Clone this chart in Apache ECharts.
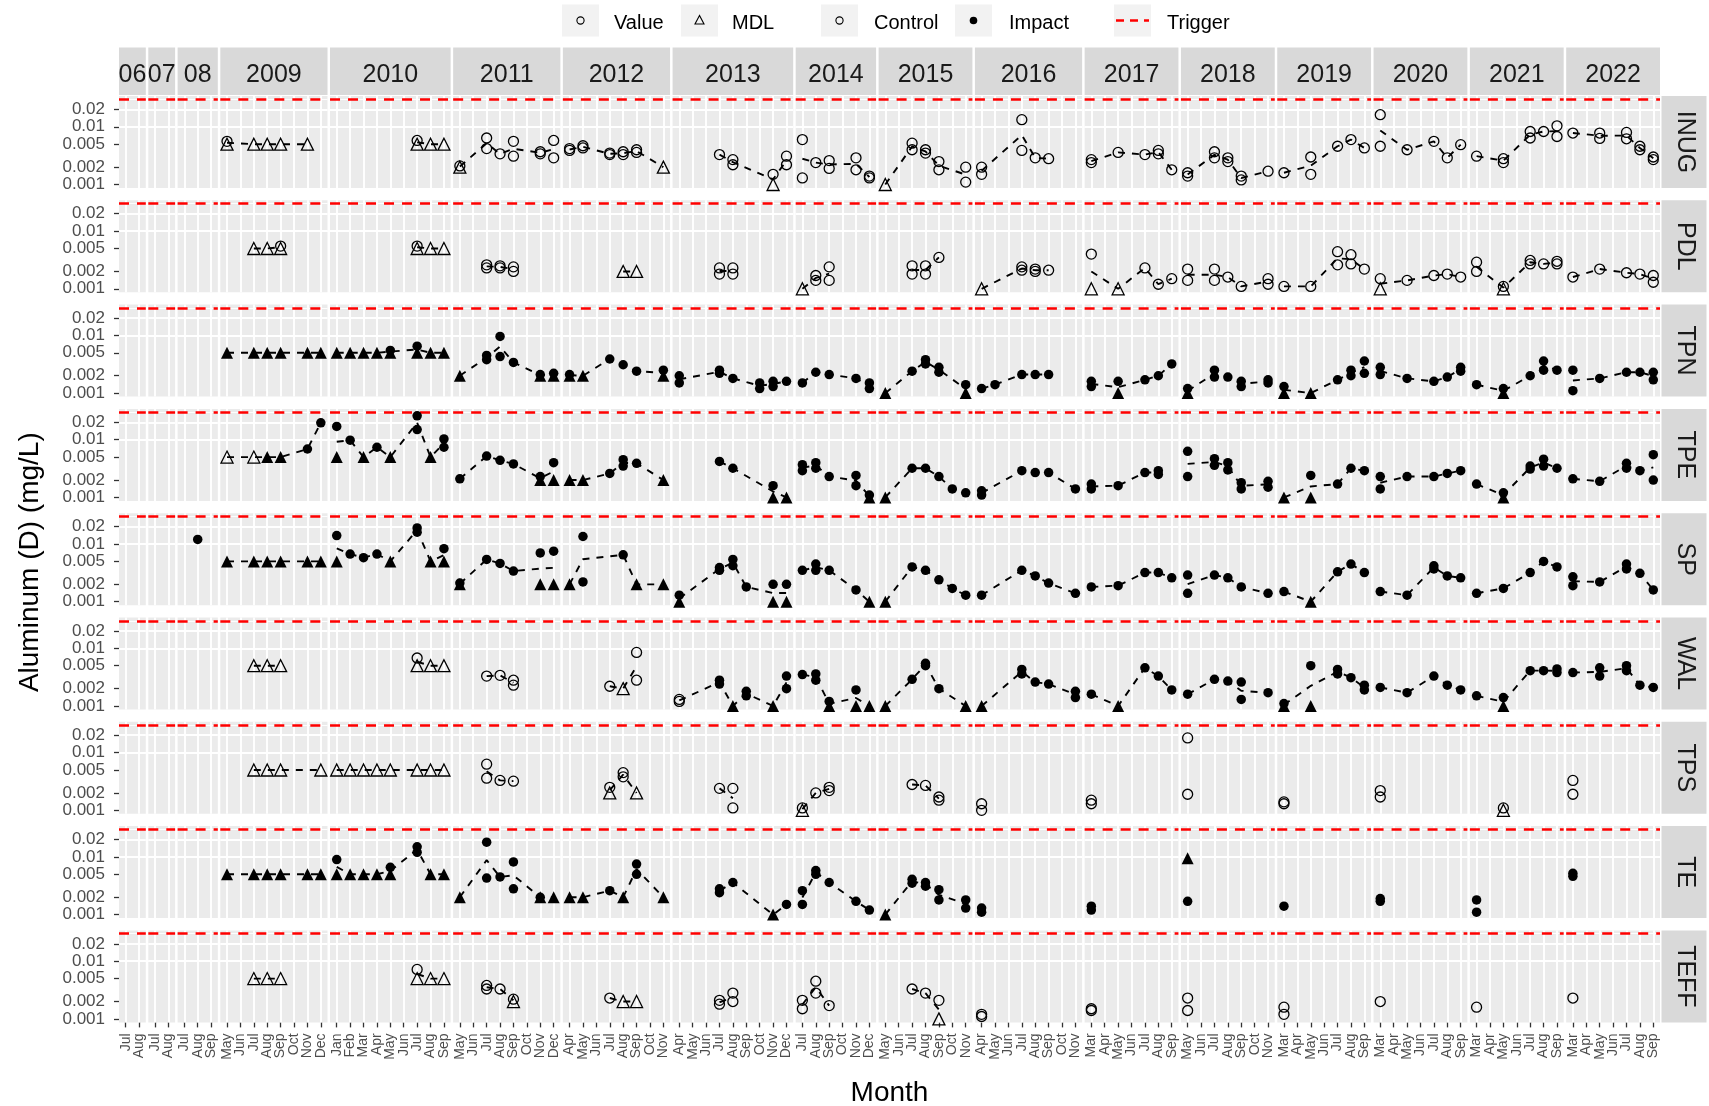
<!DOCTYPE html>
<html><head><meta charset="utf-8">
<script src="https://cdn.jsdelivr.net/npm/echarts@6/dist/echarts.min.js"></script>
<style>html,body{margin:0;padding:0;background:#fff}#c{width:1709px;height:1106px}</style>
</head><body><div id="c"></div>
<script>
const YEARS = ['06','07','08','2009','2010','2011','2012','2013','2014','2015','2016','2017','2018','2019','2020','2021','2022'];
const MONTHS = [
  ['Jul','Aug'],['Jul','Aug'],['Jul','Aug','Sep'],
  ['May','Jun','Jul','Aug','Sep','Oct','Nov','Dec'],
  ['Jan','Feb','Mar','Apr','May','Jun','Jul','Aug','Sep'],
  ['May','Jun','Jul','Aug','Sep','Oct','Nov','Dec'],
  ['Apr','May','Jun','Jul','Aug','Sep','Oct','Nov'],
  ['Apr','May','Jun','Jul','Aug','Sep','Oct','Nov','Dec'],
  ['Jul','Aug','Sep','Oct','Nov','Dec'],
  ['May','Jun','Jul','Aug','Sep','Oct','Nov'],
  ['Apr','May','Jun','Jul','Aug','Sep','Oct','Nov'],
  ['Mar','Apr','May','Jun','Jul','Aug','Sep'],
  ['May','Jun','Jul','Aug','Sep','Oct','Nov'],
  ['Mar','Apr','May','Jun','Jul','Aug','Sep'],
  ['Mar','Apr','May','Jun','Jul','Aug','Sep'],
  ['Mar','Apr','May','Jun','Jul','Aug','Sep'],
  ['Mar','Apr','May','Jun','Jul','Aug','Sep']
];
const STATIONS = ['INUG','PDL','TPN','TPE','SP','WAL','TPS','TE','TEFF'];
const Y_TICKS = [0.001, 0.002, 0.005, 0.01, 0.02];
const TRIGGER = 0.026;
// rows: [year, month, kind, ...values]; kind: cv=Control Value, cm=Control MDL, iv=Impact Value, im=Impact MDL
const INUG = [
  ['2009','May','cm',0.005],['2009','May','cv',0.0056],['2009','Jul','cm',0.005],['2009','Aug','cm',0.005],['2009','Sep','cm',0.005],['2009','Nov','cm',0.005],
  ['2010','Jul','cm',0.005],['2010','Jul','cv',0.0058],['2010','Aug','cm',0.005],['2010','Sep','cm',0.005],
  ['2011','May','cm',0.002],['2011','May','cv',0.0021],['2011','Jul','cv',0.0064,0.0042],['2011','Aug','cv',0.0034],['2011','Sep','cv',0.0056,0.0031],['2011','Nov','cv',0.0037,0.0034],['2011','Dec','cv',0.0058,0.0029],
  ['2012','Apr','cv',0.0042,0.0039],['2012','May','cv',0.0047,0.0043],['2012','Jul','cv',0.0035,0.0033],['2012','Aug','cv',0.0037,0.0033],['2012','Sep','cv',0.004,0.0036],['2012','Nov','cm',0.002],
  ['2013','Jul','cv',0.0033],['2013','Aug','cv',0.0027,0.0022],['2013','Nov','cv',0.0015],['2013','Nov','cm',0.001],['2013','Dec','cv',0.0031,0.0022],
  ['2014','Jul','cv',0.006,0.0013],['2014','Aug','cv',0.0024],['2014','Sep','cv',0.0026,0.0019],['2014','Nov','cv',0.0029,0.0018],['2014','Dec','cv',0.0014,0.0013],
  ['2015','May','cm',0.001],['2015','Jul','cv',0.0052,0.004],['2015','Aug','cv',0.004,0.0035],['2015','Sep','cv',0.0025,0.0018],['2015','Nov','cv',0.002,0.0011],
  ['2016','Apr','cv',0.002,0.0015],['2016','Jul','cv',0.0133,0.0039],['2016','Aug','cv',0.0029],['2016','Sep','cv',0.0028],
  ['2017','Mar','cv',0.0027,0.0024],['2017','May','cv',0.0036],['2017','Jul','cv',0.0033],['2017','Aug','cv',0.0039,0.0034],['2017','Sep','cv',0.0018],
  ['2018','May','cv',0.0016,0.0014],['2018','Jul','cv',0.0037,0.0029],['2018','Aug','cv',0.0029,0.0025],['2018','Sep','cv',0.0014,0.0012],['2018','Nov','cv',0.0017],
  ['2019','Mar','cv',0.0016],['2019','May','cv',0.003,0.0015],['2019','Jul','cv',0.0046],['2019','Aug','cv',0.006],['2019','Sep','cv',0.0043],
  ['2020','Mar','cv',0.0162,0.0046],['2020','May','cv',0.004],['2020','Jul','cv',0.0056],['2020','Aug','cv',0.0029],['2020','Sep','cv',0.0049],
  ['2021','Mar','cv',0.0031],['2021','May','cv',0.0028,0.0024],['2021','Jul','cv',0.0083,0.0064],['2021','Aug','cv',0.0083],['2021','Sep','cv',0.0104,0.0068],
  ['2022','Mar','cv',0.0078],['2022','May','cv',0.0078,0.0063],['2022','Jul','cv',0.008,0.0062],['2022','Aug','cv',0.0046,0.004],['2022','Sep','cv',0.003,0.0027]
];
const PDL = [
  ['2009','Jul','cm',0.005],['2009','Aug','cm',0.005],['2009','Sep','cm',0.005],['2009','Sep','cv',0.0055],
  ['2010','Jul','cm',0.005],['2010','Jul','cv',0.0055],['2010','Aug','cm',0.005],['2010','Sep','cm',0.005],
  ['2011','Jul','cv',0.0026,0.0023],['2011','Aug','cv',0.0025,0.0023],['2011','Sep','cv',0.0024,0.002],
  ['2012','Aug','cm',0.002],['2012','Sep','cm',0.002],
  ['2013','Jul','cv',0.0023,0.0018],['2013','Aug','cv',0.0023,0.0018],
  ['2014','Jul','cm',0.001],['2014','Aug','cv',0.0017,0.0014],['2014','Sep','cv',0.0024,0.0014],
  ['2015','Jul','cv',0.0025,0.0018],['2015','Aug','cv',0.0025,0.0018],['2015','Sep','cv',0.0035],
  ['2016','Apr','cm',0.001],['2016','Jul','cv',0.0024,0.0021],['2016','Aug','cv',0.0022,0.002],['2016','Sep','cv',0.0021],
  ['2017','Mar','cv',0.004],['2017','Mar','cm',0.001],['2017','May','cm',0.001],['2017','Jul','cv',0.0023],['2017','Aug','cv',0.0012],['2017','Sep','cv',0.0015],
  ['2018','May','cv',0.0022,0.0014],['2018','Jul','cv',0.0022,0.0014],['2018','Aug','cv',0.0016],['2018','Sep','cv',0.0011],['2018','Nov','cv',0.0015,0.0012],
  ['2019','Mar','cv',0.0011],['2019','May','cv',0.0011],['2019','Jul','cv',0.0044,0.0026],['2019','Aug','cv',0.0039,0.0027],['2019','Sep','cv',0.0022],
  ['2020','Mar','cv',0.0015],['2020','Mar','cm',0.001],['2020','May','cv',0.0014],['2020','Jul','cv',0.0017],['2020','Aug','cv',0.0018],['2020','Sep','cv',0.0016],
  ['2021','Mar','cv',0.0029,0.002],['2021','May','cm',0.001],['2021','May','cv',0.0011],['2021','Jul','cv',0.0031,0.0027],['2021','Aug','cv',0.0027],['2021','Sep','cv',0.003,0.0027],
  ['2022','Mar','cv',0.0016],['2022','May','cv',0.0022],['2022','Jul','cv',0.0019],['2022','Aug','cv',0.0018],['2022','Sep','cv',0.0017,0.0013]
];
const TPN = [
  ['2009','May','im',0.005],['2009','Jul','im',0.005],['2009','Aug','im',0.005],['2009','Sep','im',0.005],['2009','Nov','im',0.005],['2009','Dec','im',0.005],
  ['2010','Jan','im',0.005],['2010','Feb','im',0.005],['2010','Mar','im',0.005],['2010','Apr','im',0.005],['2010','May','im',0.005],['2010','May','iv',0.0055],['2010','Jul','iv',0.0065],['2010','Jul','im',0.005],['2010','Aug','im',0.005],['2010','Sep','im',0.005],
  ['2011','May','im',0.002],['2011','Jul','iv',0.0045,0.0038],['2011','Aug','iv',0.0096,0.0043],['2011','Sep','iv',0.0034],['2011','Nov','iv',0.0021],['2011','Nov','im',0.002],['2011','Dec','iv',0.0022],['2011','Dec','im',0.002],
  ['2012','Apr','im',0.002],['2012','Apr','iv',0.0021],['2012','May','im',0.002],['2012','Jul','iv',0.0039],['2012','Aug','iv',0.0031],['2012','Sep','iv',0.0024],['2012','Nov','iv',0.0025],['2012','Nov','im',0.002],
  ['2013','Apr','iv',0.002,0.0015],['2013','Jul','iv',0.0025,0.0022],['2013','Aug','iv',0.0018],['2013','Oct','iv',0.0015,0.0012],['2013','Nov','iv',0.0016,0.0013],['2013','Dec','iv',0.0016],
  ['2014','Jul','iv',0.0015],['2014','Aug','iv',0.0023],['2014','Sep','iv',0.0021],['2014','Nov','iv',0.0018],['2014','Dec','iv',0.0015,0.0012],
  ['2015','May','im',0.001],['2015','Jul','iv',0.0024],['2015','Aug','iv',0.0038,0.0032],['2015','Sep','iv',0.0028,0.0023],['2015','Nov','iv',0.0014],['2015','Nov','im',0.001],
  ['2016','Apr','iv',0.0012],['2016','May','iv',0.0014],['2016','Jul','iv',0.0021],['2016','Aug','iv',0.0021],['2016','Sep','iv',0.0021],
  ['2017','Mar','iv',0.0016,0.0013],['2017','May','iv',0.0016],['2017','May','im',0.001],['2017','Jul','iv',0.0017],['2017','Aug','iv',0.002],['2017','Sep','iv',0.0032],
  ['2018','May','iv',0.0012],['2018','May','im',0.001],['2018','Jul','iv',0.0025,0.0019],['2018','Aug','iv',0.0019],['2018','Sep','iv',0.0016,0.0013],['2018','Nov','iv',0.0017,0.0015],
  ['2019','Mar','iv',0.0013],['2019','Mar','im',0.001],['2019','May','im',0.001],['2019','Jul','iv',0.0017],['2019','Aug','iv',0.0025,0.002],['2019','Sep','iv',0.0036,0.0022],
  ['2020','Mar','iv',0.0028,0.0021],['2020','May','iv',0.0018],['2020','Jul','iv',0.0016],['2020','Aug','iv',0.0019],['2020','Sep','iv',0.0028,0.0024],
  ['2021','Mar','iv',0.0014],['2021','May','iv',0.0012],['2021','May','im',0.001],['2021','Jul','iv',0.002],['2021','Aug','iv',0.0036,0.0025],['2021','Sep','iv',0.0025],
  ['2022','Mar','iv',0.0025,0.0011],['2022','May','iv',0.0018],['2022','Jul','iv',0.0023],['2022','Aug','iv',0.0023],['2022','Sep','iv',0.0023,0.0017]
];
const TPE = [
  ['2009','May','cm',0.005],['2009','Jul','cm',0.005],['2009','Aug','im',0.005],['2009','Sep','im',0.005],['2009','Nov','iv',0.0069],['2009','Dec','iv',0.0196],
  ['2010','Jan','iv',0.017],['2010','Jan','im',0.005],['2010','Feb','iv',0.0098],['2010','Mar','im',0.005],['2010','Apr','iv',0.0074],['2010','May','im',0.005],['2010','Jul','iv',0.026,0.015],['2010','Aug','im',0.005],['2010','Sep','iv',0.0103,0.0074],
  ['2011','May','iv',0.0021],['2011','Jul','iv',0.0052],['2011','Aug','iv',0.0044],['2011','Sep','iv',0.0038],['2011','Nov','iv',0.0023],['2011','Nov','im',0.002],['2011','Dec','iv',0.004],['2011','Dec','im',0.002],
  ['2012','Apr','im',0.002],['2012','May','im',0.002],['2012','Jul','iv',0.0026],['2012','Aug','iv',0.0045,0.0035],['2012','Sep','iv',0.0039],['2012','Nov','im',0.002],
  ['2013','Jul','iv',0.0042],['2013','Aug','iv',0.0032],['2013','Nov','iv',0.0016],['2013','Nov','im',0.001],['2013','Dec','im',0.001],
  ['2014','Jul','iv',0.0037,0.0029],['2014','Aug','iv',0.004,0.0032],['2014','Sep','iv',0.0023],['2014','Nov','iv',0.0024,0.0016],['2014','Dec','im',0.001],['2014','Dec','iv',0.0011],
  ['2015','May','im',0.001],['2015','Jul','iv',0.0032],['2015','Aug','iv',0.0032],['2015','Sep','iv',0.0023],['2015','Oct','iv',0.0014],['2015','Nov','iv',0.0012],
  ['2016','Apr','iv',0.0013,0.0011],['2016','Jul','iv',0.0029],['2016','Aug','iv',0.0027],['2016','Sep','iv',0.0027],['2016','Nov','iv',0.0014],
  ['2017','Mar','iv',0.0017,0.0014],['2017','May','iv',0.0016],['2017','Jul','iv',0.0027],['2017','Aug','iv',0.0029,0.0025],
  ['2018','May','iv',0.0063,0.0023],['2018','Jul','iv',0.0047,0.0036],['2018','Aug','iv',0.004,0.003],['2018','Sep','iv',0.0018,0.0014],['2018','Nov','iv',0.0019,0.0015],
  ['2019','Mar','im',0.001],['2019','May','im',0.001],['2019','May','iv',0.0024],['2019','Jul','iv',0.0017],['2019','Aug','iv',0.0032],['2019','Sep','iv',0.0029],
  ['2020','Mar','iv',0.0023,0.0014],['2020','May','iv',0.0023],['2020','Jul','iv',0.0023],['2020','Aug','iv',0.0026],['2020','Sep','iv',0.0029],
  ['2021','Mar','iv',0.0017],['2021','May','im',0.001],['2021','May','iv',0.0012],['2021','Jul','iv',0.0035,0.0031],['2021','Aug','iv',0.0046,0.0035],['2021','Sep','iv',0.0032],
  ['2022','Mar','iv',0.0021],['2022','May','iv',0.0019],['2022','Jul','iv',0.0039,0.0032],['2022','Aug','iv',0.0029],['2022','Sep','iv',0.0055,0.002]
];
const SP = [
  ['08','Aug','iv',0.012],
  ['2009','May','im',0.005],['2009','Jul','im',0.005],['2009','Aug','im',0.005],['2009','Sep','im',0.005],['2009','Nov','im',0.005],['2009','Dec','im',0.005],
  ['2010','Jan','im',0.005],['2010','Jan','iv',0.014],['2010','Feb','iv',0.0067],['2010','Mar','iv',0.0058],['2010','Apr','iv',0.0067],['2010','May','im',0.005],['2010','Jul','iv',0.019,0.016],['2010','Aug','im',0.005],['2010','Sep','iv',0.0083],['2010','Sep','im',0.005],
  ['2011','May','im',0.002],['2011','May','iv',0.0021],['2011','Jul','iv',0.0054],['2011','Aug','iv',0.0046],['2011','Sep','iv',0.0034],['2011','Nov','iv',0.007],['2011','Nov','im',0.002],['2011','Dec','iv',0.0075],['2011','Dec','im',0.002],
  ['2012','Apr','im',0.002],['2012','May','iv',0.0135,0.0022],['2012','Aug','iv',0.0065],['2012','Sep','im',0.002],['2012','Nov','im',0.002],
  ['2013','Apr','im',0.001],['2013','Apr','iv',0.0013],['2013','Jul','iv',0.0039,0.0035],['2013','Aug','iv',0.0054,0.0042],['2013','Sep','iv',0.0018],['2013','Nov','iv',0.002],['2013','Nov','im',0.001],['2013','Dec','iv',0.002],['2013','Dec','im',0.001],
  ['2014','Jul','iv',0.0035],['2014','Aug','iv',0.0045,0.0035],['2014','Sep','iv',0.0035],['2014','Nov','iv',0.0016],['2014','Dec','im',0.001],
  ['2015','May','im',0.001],['2015','Jul','iv',0.004],['2015','Aug','iv',0.0035],['2015','Sep','iv',0.0024],['2015','Oct','iv',0.0017],['2015','Nov','iv',0.0013],
  ['2016','Apr','iv',0.0013],['2016','Jul','iv',0.0035],['2016','Aug','iv',0.0028],['2016','Sep','iv',0.0021],['2016','Nov','iv',0.0014],
  ['2017','Mar','iv',0.0018],['2017','May','iv',0.0019],['2017','Jul','iv',0.0032],['2017','Aug','iv',0.0032],['2017','Sep','iv',0.0026],
  ['2018','May','iv',0.0029,0.0014],['2018','Jul','iv',0.0029],['2018','Aug','iv',0.0026],['2018','Sep','iv',0.0018],['2018','Nov','iv',0.0014],
  ['2019','Mar','iv',0.0015],['2019','May','im',0.001],['2019','Jul','iv',0.0033],['2019','Aug','iv',0.0045],['2019','Sep','iv',0.0032],
  ['2020','Mar','iv',0.0015],['2020','May','iv',0.0013],['2020','Jul','iv',0.0042,0.0037],['2020','Aug','iv',0.0028],['2020','Sep','iv',0.0026],
  ['2021','Mar','iv',0.0014],['2021','May','iv',0.0017],['2021','Jul','iv',0.0032],['2021','Aug','iv',0.005],['2021','Sep','iv',0.004],
  ['2022','Mar','iv',0.0027,0.0019],['2022','May','iv',0.0022],['2022','Jul','iv',0.0045,0.0037],['2022','Aug','iv',0.0031],['2022','Sep','iv',0.0016]
];
const WAL = [
  ['2009','Jul','cm',0.005],['2009','Aug','cm',0.005],['2009','Sep','cm',0.005],
  ['2010','Jul','cv',0.0068],['2010','Jul','cm',0.005],['2010','Aug','cm',0.005],['2010','Sep','cm',0.005],
  ['2011','Jul','cv',0.0033],['2011','Aug','cv',0.0034],['2011','Sep','cv',0.0028,0.0023],
  ['2012','Jul','cv',0.0022],['2012','Aug','cm',0.002],['2012','Sep','cv',0.0085,0.0028],
  ['2013','Apr','cv',0.0013,0.0012],['2013','Jul','iv',0.0028,0.0024],['2013','Aug','im',0.001],['2013','Sep','iv',0.0018,0.0015],['2013','Nov','im',0.001],['2013','Dec','iv',0.0033,0.002],
  ['2014','Jul','iv',0.0035],['2014','Aug','iv',0.0036,0.0028],['2014','Sep','im',0.001],['2014','Sep','iv',0.0012],['2014','Nov','iv',0.0019],['2014','Nov','im',0.001],['2014','Dec','im',0.001],
  ['2015','May','im',0.001],['2015','Jul','iv',0.0029],['2015','Aug','iv',0.0055,0.005],['2015','Sep','iv',0.002],['2015','Nov','im',0.001],
  ['2016','Apr','im',0.001],['2016','Jul','iv',0.0043,0.0036],['2016','Aug','iv',0.0026],['2016','Sep','iv',0.0024],['2016','Nov','iv',0.0018,0.0014],
  ['2017','Mar','iv',0.0016],['2017','May','im',0.001],['2017','Jul','iv',0.0046],['2017','Aug','iv',0.0033],['2017','Sep','iv',0.0019],
  ['2018','May','iv',0.0016],['2018','Jul','iv',0.0029],['2018','Aug','iv',0.0027],['2018','Sep','iv',0.0026,0.0013],['2018','Nov','iv',0.0017],
  ['2019','Mar','im',0.001],['2019','Mar','iv',0.0011],['2019','May','im',0.001],['2019','May','iv',0.005],['2019','Jul','iv',0.0043,0.0036],['2019','Aug','iv',0.0031],['2019','Sep','iv',0.0023,0.0019],
  ['2020','Mar','iv',0.0021],['2020','May','iv',0.0017],['2020','Jul','iv',0.0033],['2020','Aug','iv',0.0023],['2020','Sep','iv',0.0019],
  ['2021','Mar','iv',0.0015],['2021','May','im',0.001],['2021','May','iv',0.0014],['2021','Jul','iv',0.0041],['2021','Aug','iv',0.0041],['2021','Sep','iv',0.0044,0.0038],
  ['2022','Mar','iv',0.0038],['2022','May','iv',0.0046,0.0033],['2022','Jul','iv',0.005,0.0041],['2022','Aug','iv',0.0023],['2022','Sep','iv',0.0021]
];
const TPS = [
  ['2009','Jul','cm',0.005],['2009','Aug','cm',0.005],['2009','Sep','cm',0.005],['2009','Dec','cm',0.005],
  ['2010','Jan','cm',0.005],['2010','Feb','cm',0.005],['2010','Mar','cm',0.005],['2010','Apr','cm',0.005],['2010','May','cm',0.005],['2010','Jul','cm',0.005],['2010','Aug','cm',0.005],['2010','Sep','cm',0.005],
  ['2011','Jul','cv',0.0063,0.0036],['2011','Aug','cv',0.0033],['2011','Sep','cv',0.0032],
  ['2012','Jul','cm',0.002],['2012','Jul','cv',0.0025],['2012','Aug','cv',0.0045,0.0038],['2012','Sep','cm',0.002],
  ['2013','Jul','cv',0.0024],['2013','Aug','cv',0.0024,0.0011],
  ['2014','Jul','cm',0.001],['2014','Jul','cv',0.0011],['2014','Aug','cv',0.002],['2014','Sep','cv',0.0025,0.0022],
  ['2015','Jul','cv',0.0028],['2015','Aug','cv',0.0027],['2015','Sep','cv',0.0017,0.0015],
  ['2016','Apr','cv',0.0013,0.001],
  ['2017','Mar','cv',0.0015,0.0013],
  ['2018','May','cv',0.018,0.0019],
  ['2019','Mar','cv',0.0014,0.0013],
  ['2020','Mar','cv',0.0022,0.0017],
  ['2021','May','cm',0.001],['2021','May','cv',0.0011],
  ['2022','Mar','cv',0.0033,0.0019]
];
const TE = [
  ['2009','May','im',0.005],['2009','Jul','im',0.005],['2009','Aug','im',0.005],['2009','Sep','im',0.005],['2009','Nov','im',0.005],['2009','Dec','im',0.005],
  ['2010','Jan','iv',0.009],['2010','Jan','im',0.005],['2010','Feb','im',0.005],['2010','Mar','im',0.005],['2010','Apr','im',0.005],['2010','May','iv',0.0066],['2010','May','im',0.005],['2010','Jul','iv',0.015,0.012],['2010','Aug','im',0.005],['2010','Sep','im',0.005],
  ['2011','May','im',0.002],['2011','Jul','iv',0.018,0.0043],['2011','Aug','iv',0.0045],['2011','Sep','iv',0.0082,0.0028],['2011','Nov','iv',0.002],['2011','Nov','im',0.002],['2011','Dec','im',0.002],
  ['2012','Apr','im',0.002],['2012','May','im',0.002],['2012','Jul','iv',0.0026],['2012','Aug','im',0.002],['2012','Sep','iv',0.0075,0.005],['2012','Nov','im',0.002],
  ['2013','Jul','iv',0.0028,0.0024],['2013','Aug','iv',0.0036],['2013','Nov','im',0.001],['2013','Dec','iv',0.0015],
  ['2014','Jul','iv',0.0026,0.0015],['2014','Aug','iv',0.0058,0.005],['2014','Sep','iv',0.0036],['2014','Nov','iv',0.0017],['2014','Dec','iv',0.0012],
  ['2015','May','im',0.001],['2015','Jul','iv',0.0041,0.0035],['2015','Aug','iv',0.0036,0.0031],['2015','Sep','iv',0.0027,0.0018],['2015','Nov','iv',0.0018,0.0013],
  ['2016','Apr','iv',0.0013,0.0011],
  ['2017','Mar','iv',0.0014,0.0012],
  ['2018','May','im',0.0095],['2018','May','iv',0.0017],
  ['2019','Mar','iv',0.0014],
  ['2020','Mar','iv',0.0019,0.0017],
  ['2021','Mar','iv',0.0018,0.0011],
  ['2022','Mar','iv',0.0052,0.0046]
];
const TEFF = [
  ['2009','Jul','cm',0.005],['2009','Aug','cm',0.005],['2009','Sep','cm',0.005],
  ['2010','Jul','cv',0.0072],['2010','Jul','cm',0.005],['2010','Aug','cm',0.005],['2010','Sep','cm',0.005],
  ['2011','Jul','cv',0.0038,0.0033],['2011','Aug','cv',0.0033],['2011','Sep','cm',0.002],['2011','Sep','cv',0.0022],
  ['2012','Jul','cv',0.0023],['2012','Aug','cm',0.002],['2012','Sep','cm',0.002],
  ['2013','Jul','cv',0.0021,0.0018],['2013','Aug','cv',0.0028,0.002],
  ['2014','Jul','cv',0.0021,0.0015],['2014','Aug','cv',0.0045,0.0028],['2014','Sep','cv',0.0017],
  ['2015','Jul','cv',0.0033],['2015','Aug','cv',0.0028],['2015','Sep','cv',0.0021],['2015','Sep','cm',0.001],
  ['2016','Apr','cv',0.0012,0.0011],
  ['2017','Mar','cv',0.0015,0.0014],
  ['2018','May','cv',0.0023,0.0014],
  ['2019','Mar','cv',0.0016,0.0012],
  ['2020','Mar','cv',0.002],
  ['2021','Mar','cv',0.0016],
  ['2022','Mar','cv',0.0023]
];
const STATION_DATA = [INUG, PDL, TPN, TPE, SP, WAL, TPS, TE, TEFF];

// ---------- layout & styles ----------
const FONT = "'Liberation Sans', Arial, Helvetica, sans-serif";
const PL = 119, PR = 1660, COLGAP = 2.5, PTOP = 96, PH = 92, PITCH = 104.3;
const YMIN = 0.00087, YMAX = 0.0342;
const KIND = {
  cv: {symbol: 'circle', size: 10, fill: 'rgba(0,0,0,0)', bw: 1.3},
  cm: {symbol: 'triangle', size: 12, fill: 'rgba(0,0,0,0)', bw: 1.3},
  iv: {symbol: 'circle', size: 9.5, fill: '#000', bw: 0},
  im: {symbol: 'triangle', size: 12, fill: '#000', bw: 0}
};
const nCats = MONTHS.reduce((s, m) => s + m.length, 0);
const U = (PR - PL - COLGAP * (YEARS.length - 1)) / nCats;
const colX = [];
{ let x = PL; MONTHS.forEach(m => { colX.push(x); x += m.length * U + COLGAP; }); }

// minor breaks (ggplot style, midpoints in log space)
const MINOR = [];
for (let i = 0; i < Y_TICKS.length - 1; i++) MINOR.push(Math.sqrt(Y_TICKS[i] * Y_TICKS[i + 1]));
MINOR.push(Y_TICKS[Y_TICKS.length - 1] * Math.sqrt(Y_TICKS[1] / Y_TICKS[0]));

const grids = [], xAxes = [], yAxes = [], series = [], graphics = [];
const lastRow = STATIONS.length - 1;

STATIONS.forEach((st, r) => {
  const rows = STATION_DATA[r];
  YEARS.forEach((yr, c) => {
    const gi = grids.length;
    const months = MONTHS[c];
    grids.push({left: colX[c], top: PTOP + r * PITCH, width: months.length * U, height: PH,
      show: true, backgroundColor: '#EBEBEB', borderWidth: 0, containLabel: false, outerBoundsMode: 'none'});
    xAxes.push({gridIndex: gi, type: 'category', data: months, boundaryGap: true,
      axisLine: {show: false},
      axisTick: {show: r === lastRow, alignWithLabel: true, length: 5, lineStyle: {color: '#333333', width: 1.3}},
      axisLabel: {show: r === lastRow, rotate: 90, interval: 0, fontSize: 14, color: '#4D4D4D', margin: 11, fontFamily: FONT},
      splitLine: {show: false}});
    yAxes.push({gridIndex: gi, type: 'log', min: YMIN, max: YMAX,
      axisLine: {show: false},
      axisTick: {show: c === 0, customValues: Y_TICKS, length: 5, lineStyle: {color: '#333333', width: 1.3}},
      axisLabel: {show: c === 0, customValues: Y_TICKS, fontSize: 17, color: '#4D4D4D', margin: 14, fontFamily: FONT,
        formatter: v => String(+(+v).toPrecision(2))},
      splitLine: {show: false}, minorSplitLine: {show: false}});

    // panel grid lines + trigger
    const ml = [];
    MINOR.forEach(v => ml.push({yAxis: v, lineStyle: {color: '#FFFFFF', width: 0.9, type: 'solid'}}));
    Y_TICKS.forEach(v => ml.push({yAxis: v, lineStyle: {color: '#FFFFFF', width: 1.9, type: 'solid'}}));
    months.forEach(m => ml.push({xAxis: m, lineStyle: {color: '#FFFFFF', width: 1.9, type: 'solid'}}));
    ml.push({yAxis: TRIGGER, lineStyle: {color: '#FF0000', width: 2.6, type: [10, 8]}});
    series.push({type: 'line', xAxisIndex: gi, yAxisIndex: gi, data: [], silent: true, symbol: 'none',
      markLine: {silent: true, symbol: 'none', animation: false, label: {show: false}, emphasis: {disabled: true}, data: ml}});

    // data
    const pts = rows.filter(d => d[0] === yr);
    if (!pts.length) return;
    const sData = [], byMonth = {};
    pts.forEach(d => {
      const m = d[1], k = KIND[d[2]];
      d.slice(3).forEach(v => {
        sData.push({value: [m, v], symbol: k.symbol, symbolSize: k.size,
          itemStyle: {color: k.fill, borderColor: '#000', borderWidth: k.bw, opacity: 1}});
        (byMonth[m] = byMonth[m] || []).push(v);
      });
    });
    const lData = months.filter(m => byMonth[m]).map(m => {
      const a = byMonth[m];
      return [m, Math.pow(10, a.reduce((s, v) => s + Math.log10(v), 0) / a.length)];
    });
    series.push({type: 'line', xAxisIndex: gi, yAxisIndex: gi, data: lData, z: 8, silent: true,
      symbol: 'none', showSymbol: false, lineStyle: {color: '#000', width: 1.9, type: [7, 7], opacity: 1}});
    series.push({type: 'scatter', xAxisIndex: gi, yAxisIndex: gi, data: sData, z: 9, silent: true,
      itemStyle: {opacity: 1}, emphasis: {disabled: true}});
  });
});

// strips (top: years, right: stations)
YEARS.forEach((yr, c) => {
  const w = MONTHS[c].length * U;
  graphics.push({type: 'rect', shape: {x: colX[c], y: 47.5, width: w, height: 47.5}, style: {fill: '#D9D9D9'}, silent: true});
  graphics.push({type: 'text', x: colX[c] + w / 2, y: 75, silent: true,
    style: {text: yr, fontSize: 25, fontFamily: FONT, fill: '#1A1A1A', align: 'center', verticalAlign: 'middle', textAlign: 'center', textVerticalAlign: 'middle'}});
});
STATIONS.forEach((st, r) => {
  const top = PTOP + r * PITCH;
  graphics.push({type: 'rect', shape: {x: 1661.5, y: top, width: 45, height: PH}, style: {fill: '#D9D9D9'}, silent: true});
  graphics.push({type: 'text', x: 1684.5, y: top + PH / 2, rotation: -Math.PI / 2, silent: true,
    style: {text: st, fontSize: 25, fontFamily: FONT, fill: '#1A1A1A', align: 'center', verticalAlign: 'middle', textAlign: 'center', textVerticalAlign: 'middle'}});
});
// axis titles
graphics.push({type: 'text', x: 30, y: (PTOP + PTOP + lastRow * PITCH + PH) / 2 + 3, rotation: Math.PI / 2, silent: true,
  style: {text: 'Aluminum (D) (mg/L)', fontSize: 28, fontFamily: FONT, fill: '#000', align: 'center', verticalAlign: 'middle', textAlign: 'center', textVerticalAlign: 'middle'}});
graphics.push({type: 'text', x: (PL + PR) / 2, y: 1093, silent: true,
  style: {text: 'Month', fontSize: 28, fontFamily: FONT, fill: '#000', align: 'center', verticalAlign: 'middle', textAlign: 'center', textVerticalAlign: 'middle'}});

// legend
const LEG = [
  {label: 'Value', box: 562, text: 614, key: 'openCircle'},
  {label: 'MDL', box: 681, text: 732, key: 'openTriangle'},
  {label: 'Control', box: 821, text: 874, key: 'openCircle'},
  {label: 'Impact', box: 955, text: 1009, key: 'filledCircle'},
  {label: 'Trigger', box: 1114, text: 1167, key: 'dash'}
];
const LY = 4.5, LH = 32, LW = 37;
LEG.forEach(it => {
  const cx = it.box + LW / 2, cy = LY + LH / 2;
  graphics.push({type: 'rect', shape: {x: it.box, y: LY, width: LW, height: LH}, style: {fill: '#F2F2F2'}, silent: true});
  if (it.key === 'openCircle') graphics.push({type: 'circle', shape: {cx, cy, r: 3.6}, style: {fill: 'none', stroke: '#000', lineWidth: 1.1}, silent: true});
  if (it.key === 'filledCircle') graphics.push({type: 'circle', shape: {cx, cy, r: 3.8}, style: {fill: '#000'}, silent: true});
  if (it.key === 'openTriangle') graphics.push({type: 'polygon', shape: {points: [[cx, cy - 5], [cx - 4.5, cy + 3.5], [cx + 4.5, cy + 3.5]]}, style: {fill: 'none', stroke: '#000', lineWidth: 1.1}, silent: true});
  if (it.key === 'dash') graphics.push({type: 'line', shape: {x1: it.box + 2, y1: cy, x2: it.box + LW - 2, y2: cy}, style: {stroke: '#FF0000', lineWidth: 2.6, lineDash: [8, 6]}, silent: true});
  graphics.push({type: 'text', x: it.text, y: cy + 2.5, silent: true,
    style: {text: it.label, fontSize: 20, fontFamily: FONT, fill: '#000', align: 'left', verticalAlign: 'middle', textAlign: 'left', textVerticalAlign: 'middle'}});
});

const chart = echarts.init(document.getElementById('c'), null, {renderer: 'canvas'});
chart.setOption({
  animation: false,
  backgroundColor: '#FFFFFF',
  grid: grids, xAxis: xAxes, yAxis: yAxes, series: series, graphic: graphics
});
</script>
</body></html>
